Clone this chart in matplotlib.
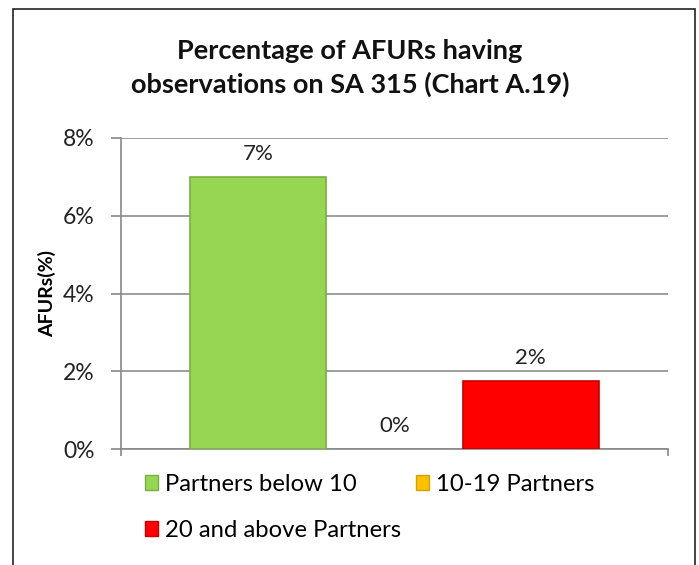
import matplotlib
matplotlib.use('Agg')
from matplotlib import pyplot as plt
from matplotlib.patches import Patch, Rectangle

# data
SERIES = ['Partners below 10', '10-19 Partners', '20 and above Partners']
VALUES = [7.0, 0.0, 1.75]
LABELS = ['7%', '0%', '2%']
YTICKS = [0, 2, 4, 6, 8]

COLORS = ['#96d653', '#ffc000', '#ff0000']
EDGES = ['#78b03e', '#d9a000', '#c80000']

plt.rcParams['font.family'] = ['Lato', 'DejaVu Sans']

fig = plt.figure(figsize=(6.99, 5.65), dpi=100)
ax = fig.add_axes([121/699, 1-449/565, 547/699, 311/565])

# frame around the chart
fig.patches.append(Rectangle((13/699, -0.05), 682/699, 1.05-9/565, transform=fig.transFigure,
                             fill=False, edgecolor='#222222', linewidth=1.2))

POS = [-1, 0, 1]
for p, v, c, e, lab in zip(POS, VALUES, COLORS, EDGES, LABELS):
    ax.bar(p, v, width=1.0, color=c, edgecolor=e, linewidth=1.2 if v > 0 else 0, zorder=3)
    ax.annotate(lab, (p, v), xytext=(0, 9), textcoords='offset points',
                ha='center', va='bottom', fontsize=16, color='#222222')

ax.set_xlim(-2.01, 2.01)
ax.set_ylim(0, 8)
ax.set_yticks(YTICKS)
ax.set_yticklabels(['{}%'.format(t) for t in YTICKS], fontsize=16.5, color='#222222')
ax.set_xticks([-2.01, 2.01])
ax.set_xticklabels([])
ax.tick_params(axis='y', length=7, color='#888888', width=1.2, pad=12)
ax.tick_params(axis='x', length=5, color='#888888', width=1.2)
ax.grid(axis='y', color='#8c8c8c', linewidth=1.2, zorder=0)
for s in ['top', 'right']:
    ax.spines[s].set_visible(False)
for s in ['left', 'bottom']:
    ax.spines[s].set_color('#888888')
    ax.spines[s].set_linewidth(1.2)

ax.set_ylabel('AFURs(%)', fontsize=14, fontweight='bold', labelpad=5)

fig.text(350/699, 1-68/565, 'Percentage of AFURs having\nobservations on SA 315 (Chart A.19)',
         ha='center', va='center', fontsize=19.5, fontweight='bold', linespacing=1.45, color='#111111')

handles = [Patch(facecolor=COLORS[i], edgecolor=EDGES[i]) for i in range(3)]
order = [0, 2, 1]
fig.legend([handles[i] for i in order], [SERIES[i] for i in order], ncol=2,
           loc='upper left', bbox_to_anchor=(145/699, 1-474/565), frameon=False,
           fontsize=17.2, handlelength=0.55, handleheight=0.55, handletextpad=0.3,
           columnspacing=0.6, labelspacing=1.05, borderpad=0, borderaxespad=0)

fig.savefig('out.png', dpi=100)
